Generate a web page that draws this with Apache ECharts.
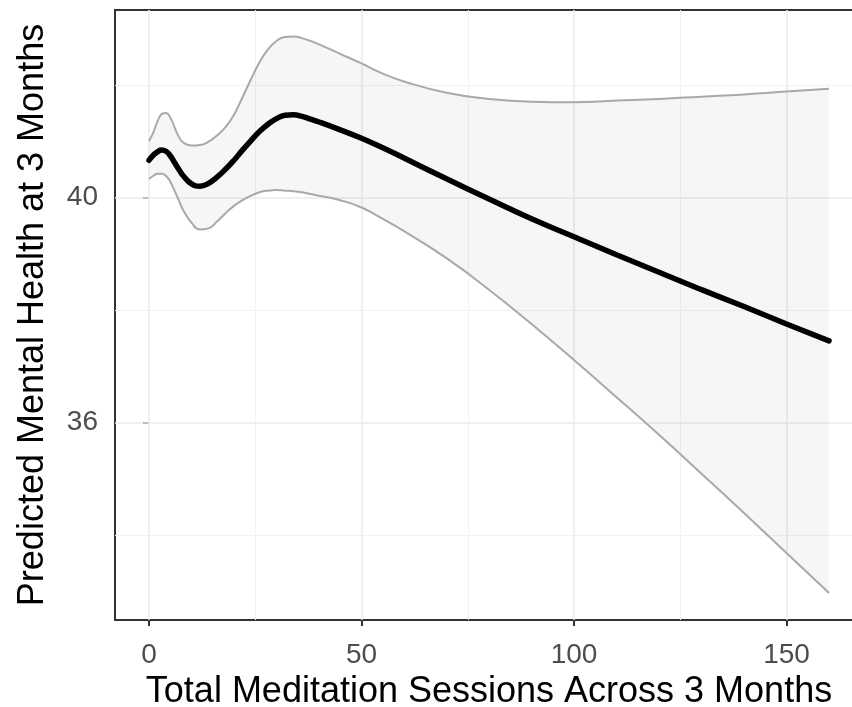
<!DOCTYPE html>
<html>
<head>
<meta charset="utf-8">
<script src="https://cdn.jsdelivr.net/npm/echarts@6/dist/echarts.min.js"></script>
<style>
  html, body { margin: 0; padding: 0; background: #ffffff; }
  #chart { width: 852px; height: 707px; }
</style>
</head>
<body>
<div id="chart"></div>
<script>
// Data
const sessions = [0,1,2,3,4,5,6,7,8,10,12,14,16,18,20,22,24,26,28,30,32,34,36,38,40,45,50,55,60,70,80,90,100,110,120,130,140,150,160];
const fitValues = [40.66,40.75,40.81,40.84,40.82,40.74,40.62,40.50,40.39,
  40.24,40.20,40.25,40.36,40.50,40.66,40.84,41.01,41.17,41.30,41.40,41.46,41.47,41.44,41.39,41.34,
  41.20,41.05,40.88,40.70,
  40.33,39.97,39.62,39.30,38.98,38.67,38.36,38.06,37.75,37.45];
const upperValues = [41.00,41.15,41.35,41.48,41.50,41.42,41.25,41.08,40.98,
  40.92,40.93,40.99,41.10,41.25,41.47,41.78,42.10,42.40,42.63,42.78,42.85,42.86,42.83,42.78,42.72,
  42.55,42.38,42.20,42.06,
  41.86,41.75,41.70,41.69,41.72,41.75,41.79,41.83,41.88,41.93];
const lowerValues = [40.33,40.38,40.42,40.42,40.38,40.28,40.12,39.95,39.78,
  39.55,39.43,39.45,39.57,39.72,39.85,39.95,40.03,40.09,40.12,40.13,40.12,40.11,40.09,40.06,40.03,
  39.95,39.82,39.62,39.40,
  38.92,38.36,37.75,37.11,36.45,35.78,35.09,34.39,33.68,32.97];

const xTicks = [0, 50, 100, 150];
const xMinorGrid = [25, 75, 125];
const yTicks = [36, 40];
const yMinorGrid = [34, 38, 42];

const xTitle = 'Total Meditation Sessions Across 3 Months';
const yTitle = 'Predicted Mental Health at 3 Months';

const pair = (vals) => sessions.map((x, i) => [x, vals[i]]);
// [value, session] rows for the stacked ribbon (value first so that it is the stacked dimension)
const bandBase = sessions.map((x, i) => [lowerValues[i], x]);
const bandDiff = sessions.map((x, i) => [+(upperValues[i] - lowerValues[i]).toFixed(4), x]);

const FONT = '"Liberation Sans", Arial, Helvetica, sans-serif';
const majorGrid = { color: '#ebebeb', width: 1.6, type: 'solid' };
const minorGrid = { color: '#f2f2f2', width: 1, type: 'solid' };

const gridMarks = []
  .concat(xTicks.map(v => ({ xAxis: v, lineStyle: majorGrid })))
  .concat(xMinorGrid.map(v => ({ xAxis: v, lineStyle: minorGrid })))
  .concat(yTicks.map(v => ({ yAxis: v, lineStyle: majorGrid })))
  .concat(yMinorGrid.map(v => ({ yAxis: v, lineStyle: minorGrid })));

const chart = echarts.init(document.getElementById('chart'), null, { renderer: 'canvas' });
chart.setOption({
  animation: false,
  backgroundColor: '#ffffff',
  textStyle: { fontFamily: FONT },
  grid: {
    left: 115, top: 10, right: -11, bottom: 87,
    show: true, borderColor: '#333333', borderWidth: 2, backgroundColor: 'transparent',
    containLabel: false, outerBoundsMode: 'none'
  },
  xAxis: {
    type: 'value', min: -8, max: 168,
    name: xTitle, nameLocation: 'middle', nameGap: 53,
    nameTextStyle: { fontSize: 36, color: '#000000', fontFamily: FONT },
    axisLine: { show: false },
    axisTick: { show: true, customValues: xTicks, length: 6, lineStyle: { color: '#333333', width: 2 } },
    axisLabel: { customValues: xTicks, fontSize: 28, color: '#4d4d4d', margin: 21, fontFamily: FONT },
    splitLine: { show: false }
  },
  yAxis: {
    type: 'value', min: 32.49, max: 43.33,
    name: yTitle, nameLocation: 'middle', nameGap: 64, nameRotate: 90,
    nameTextStyle: { fontSize: 36, color: '#000000', fontFamily: FONT },
    axisLine: { show: false },
    axisTick: { show: true, customValues: yTicks, length: 6, lineStyle: { color: '#333333', width: 2 } },
    axisLabel: { customValues: yTicks, fontSize: 28, color: '#4d4d4d', margin: 17, fontFamily: FONT },
    splitLine: { show: false }
  },
  series: [
    {
      name: 'lowerBase', type: 'line', stack: 'band', data: bandBase,
      encode: { x: 1, y: 0 },
      smooth: true, symbol: 'none', silent: true, z: 6,
      lineStyle: { opacity: 0 },
      markLine: { silent: true, symbol: ['none', 'none'], label: { show: false }, z: 1, data: gridMarks }
    },
    {
      name: 'band', type: 'line', stack: 'band', data: bandDiff,
      encode: { x: 1, y: 0 },
      smooth: true, symbol: 'none', silent: true, z: 6,
      lineStyle: { opacity: 0 },
      areaStyle: { color: 'rgba(0,0,0,0.05)' }
    },
    {
      name: 'upper', type: 'line', data: pair(upperValues),
      smooth: true, symbol: 'none', silent: true, z: 8,
      lineStyle: { color: '#a9a9a9', width: 2 }
    },
    {
      name: 'lower', type: 'line', data: pair(lowerValues),
      smooth: true, symbol: 'none', silent: true, z: 8,
      lineStyle: { color: '#a9a9a9', width: 2 }
    },
    {
      name: 'fit', type: 'line', data: pair(fitValues),
      smooth: true, symbol: 'none', silent: true, z: 10,
      lineStyle: { color: '#000000', width: 5.5, cap: 'round' }
    }
  ]
});
</script>
</body>
</html>
